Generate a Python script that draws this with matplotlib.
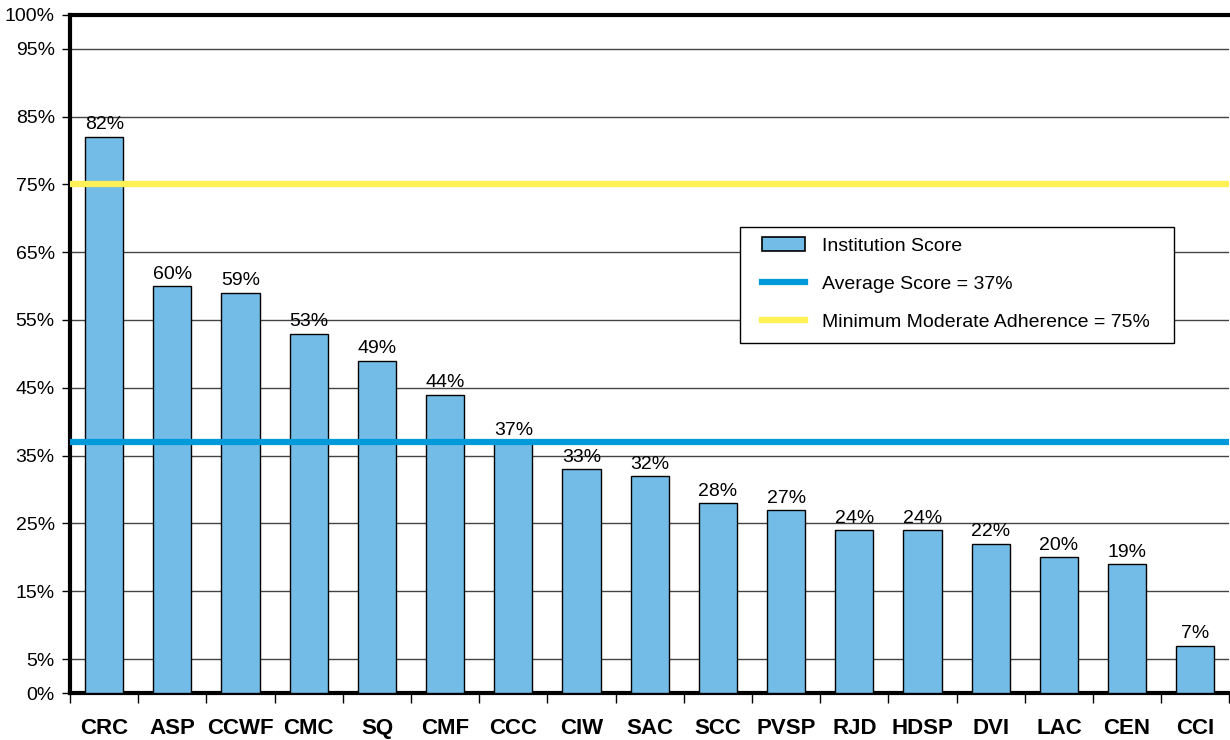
import matplotlib
matplotlib.use('Agg')
import matplotlib.pyplot as plt
from matplotlib.patches import Patch, Rectangle
from matplotlib.lines import Line2D

institutions = ['CRC', 'ASP', 'CCWF', 'CMC', 'SQ', 'CMF', 'CCC', 'CIW', 'SAC',
                'SCC', 'PVSP', 'RJD', 'HDSP', 'DVI', 'LAC', 'CEN', 'CCI']
scores = [82, 60, 59, 53, 49, 44, 37, 33, 32, 28, 27, 24, 24, 22, 20, 19, 7]
average_score = 37
min_adherence = 75
y_ticks = [0, 5, 15, 25, 35, 45, 55, 65, 75, 85, 95, 100]

plt.rcParams['font.family'] = ['Liberation Sans', 'DejaVu Sans']

fig = plt.figure(figsize=(12.3, 7.4), dpi=100)
ax = fig.add_axes([0.057, 0.0635, 0.9425, 0.9165])

x = list(range(len(institutions)))
bar_color = '#74BCE8'
ax.bar(x, scores, width=0.56, color=bar_color, edgecolor='black', linewidth=1, zorder=3)

for xi, s in zip(x, scores):
    ax.text(xi, s + 0.5, f'{s}%', ha='center', va='bottom', fontsize=14, zorder=5)

avg_color = '#0099D9'
min_color = '#FFF055'
ax.axhline(average_score, color=avg_color, linewidth=4.5, zorder=4)
ax.axhline(min_adherence, color=min_color, linewidth=4.5, zorder=4)

ax.set_xlim(-0.5, len(institutions) - 0.5)
ax.set_ylim(0, 100)

ax.set_yticks(y_ticks)
ax.set_yticklabels([f'{t}%' for t in y_ticks], fontsize=14)
for t in y_ticks[1:-1]:
    ax.axhline(t, color='#444444', linewidth=1, zorder=1)

ax.set_xticks([i - 0.5 for i in x] + [len(x) - 0.5])
ax.set_xticklabels([])
ax.set_xticks(x, minor=True)
ax.set_xticklabels(institutions, minor=True, fontsize=16, fontweight='bold')
ax.tick_params(axis='x', which='major', length=7, width=1, direction='out')
ax.tick_params(axis='x', which='minor', length=0, pad=18)
ax.tick_params(axis='y', length=6, width=1, direction='out', pad=5)

for side in ['left', 'bottom', 'top']:
    ax.spines[side].set_linewidth(3)
ax.spines['right'].set_visible(False)

# legend box drawn separately so the padding can be wider than it is tall
ax.add_patch(Rectangle((0.578, 0.516), 0.374, 0.171, transform=ax.transAxes,
                       facecolor='white', edgecolor='black', linewidth=1, zorder=6))

handles = [
    Patch(facecolor=bar_color, edgecolor='black', linewidth=1.2),
    Line2D([0], [0], color=avg_color, linewidth=4.5),
    Line2D([0], [0], color=min_color, linewidth=4.5),
]
labels = ['Institution Score', 'Average Score = 37%', 'Minimum Moderate Adherence = 75%']
leg = ax.legend(handles, labels, loc='upper left', bbox_to_anchor=(0.587, 0.689),
                fontsize=14, frameon=False, labelspacing=1.05, handlelength=2.2,
                handleheight=0.7, handletextpad=0.85, borderpad=0.6, borderaxespad=0)
leg.set_zorder(7)

fig.savefig('out.png', dpi=100)
